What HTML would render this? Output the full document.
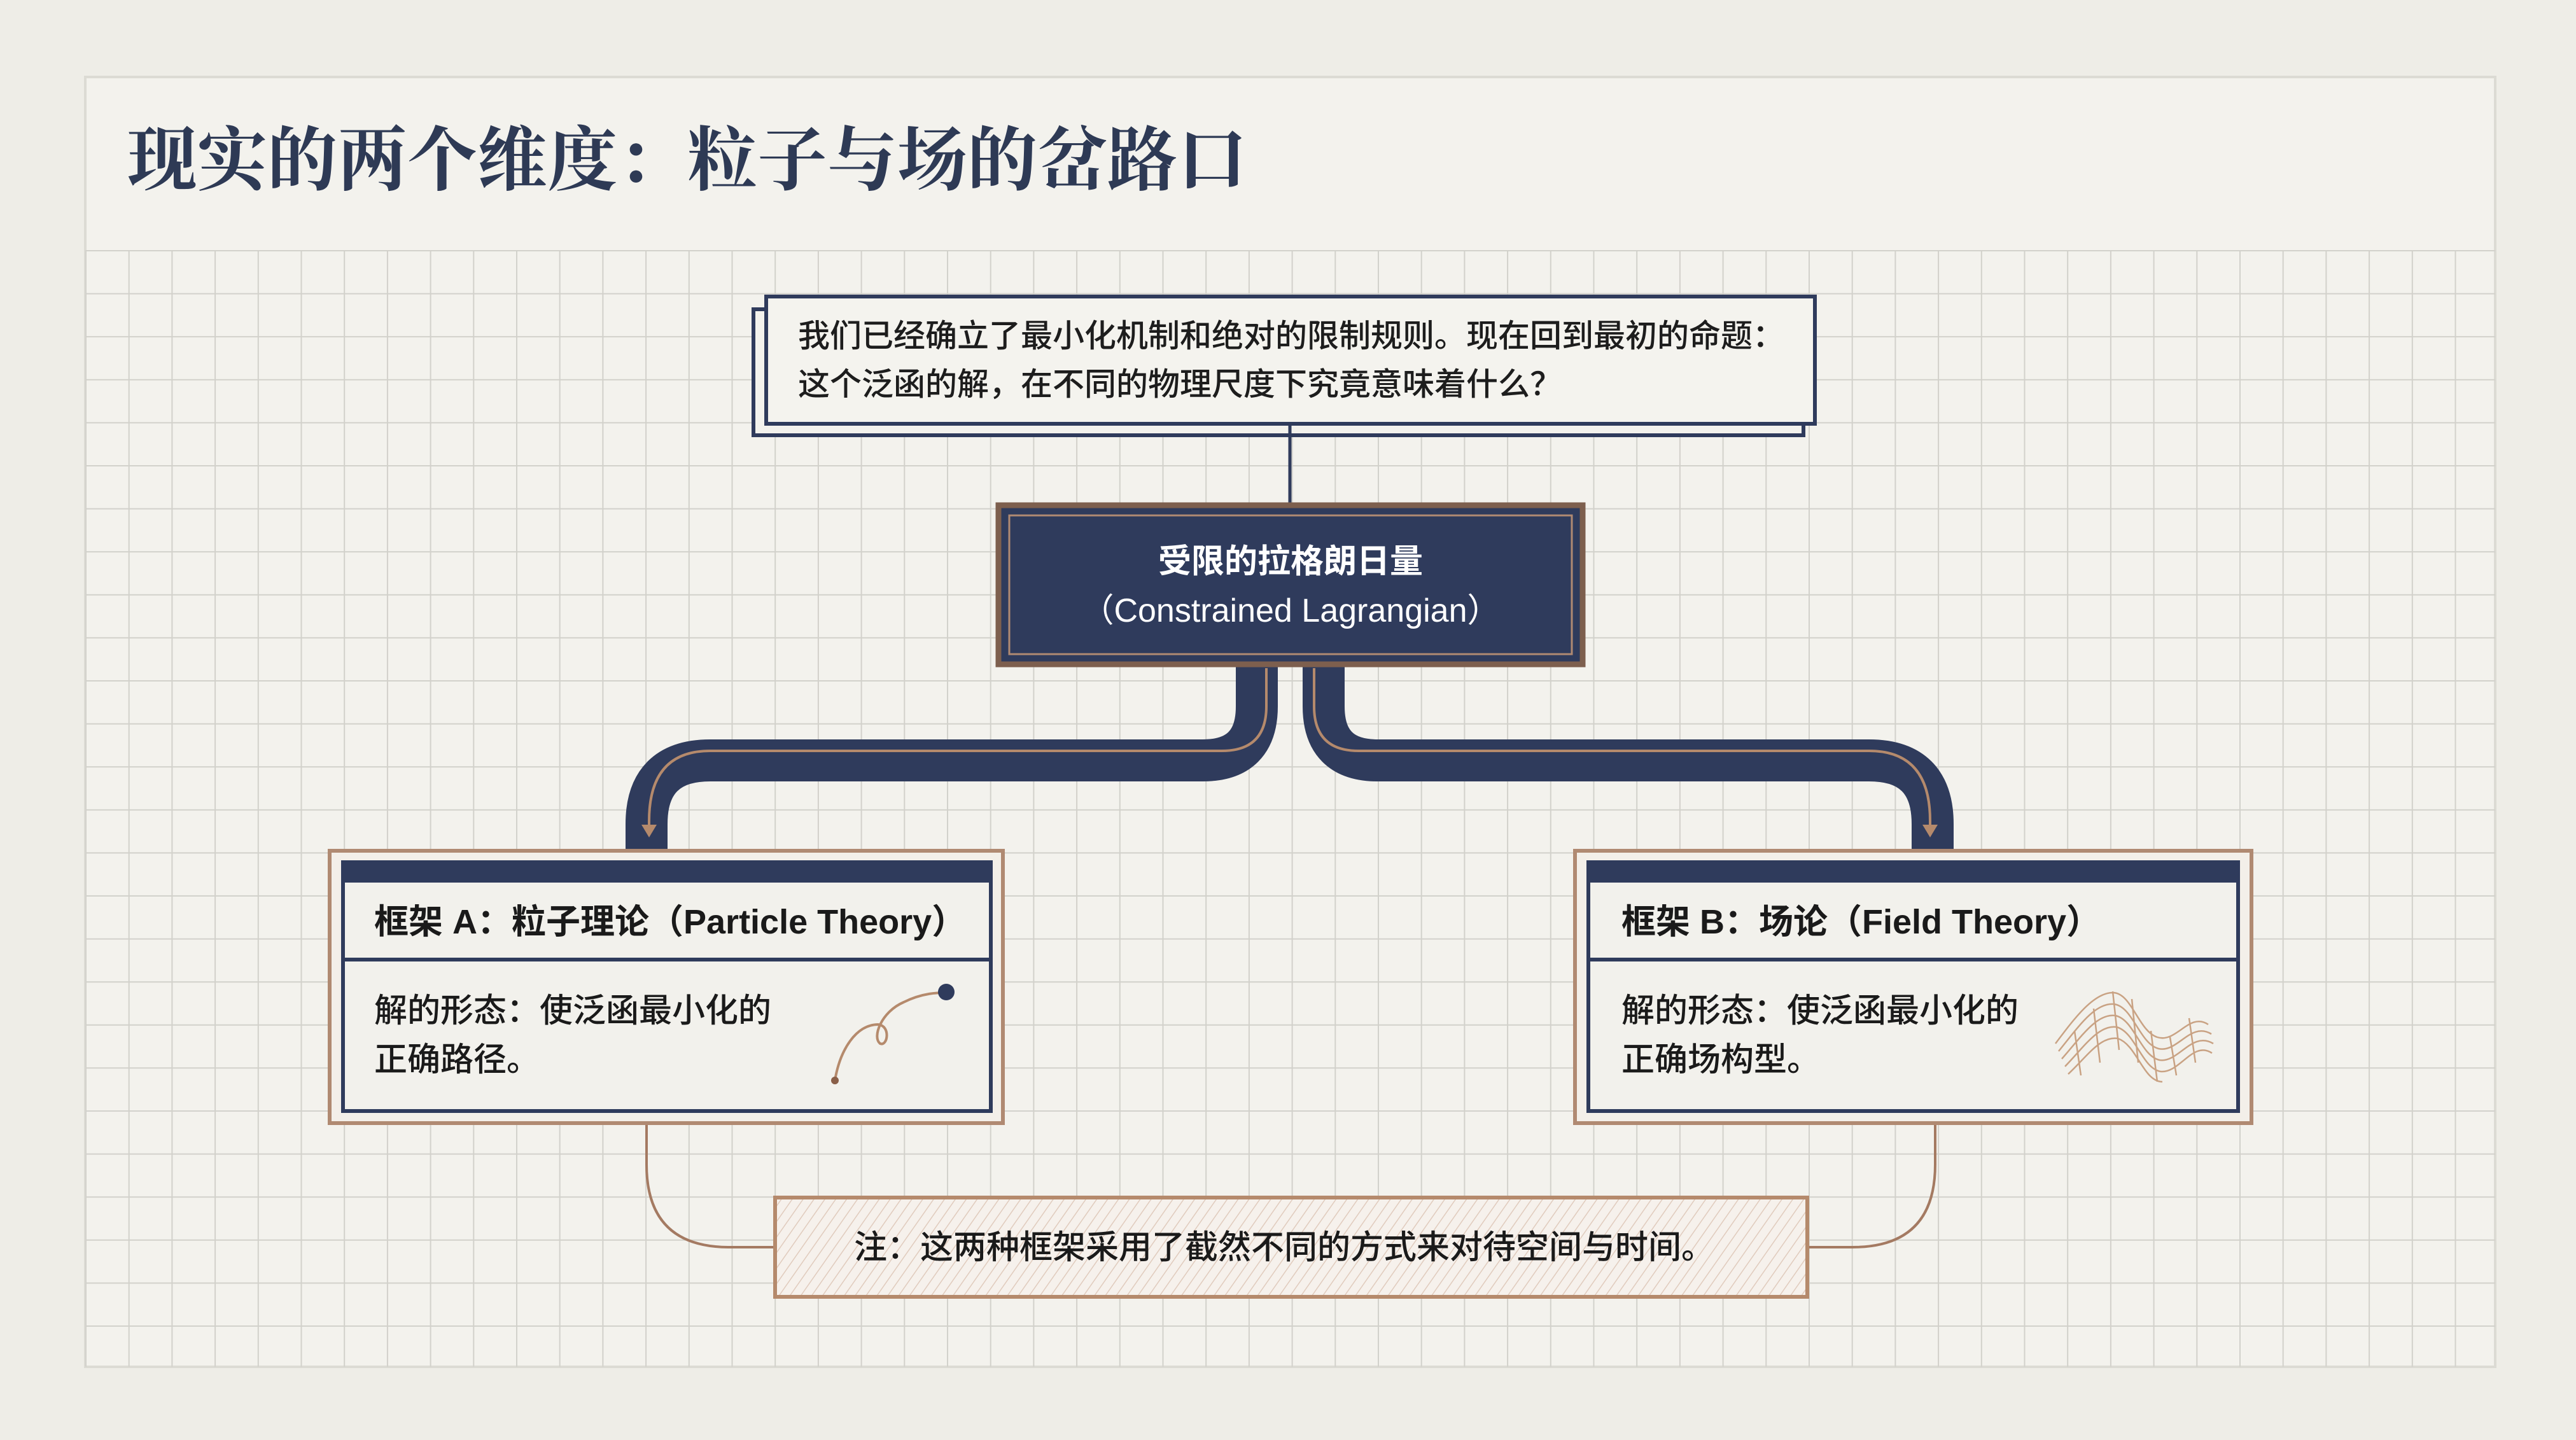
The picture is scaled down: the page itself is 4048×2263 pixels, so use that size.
<!DOCTYPE html>
<html><head><meta charset="utf-8"><style>
html,body{margin:0;padding:0;background:#eeede7;}
svg{display:block;}
.t{font-family:"Liberation Sans","Noto Sans CJK SC",sans-serif;}
</style></head><body>
<svg width="4048" height="2263" viewBox="0 0 4048 2263" xmlns="http://www.w3.org/2000/svg">
<defs>
<pattern id="grid" x="134" y="393" width="67.7" height="67.6" patternUnits="userSpaceOnUse">
<path d="M0,0 H67.7 M0,0 V67.6" stroke="#d2d1cb" stroke-width="4" fill="none"/>
</pattern>
<pattern id="hatch" width="14" height="14" patternUnits="userSpaceOnUse" patternTransform="rotate(35)">
<rect width="14" height="14" fill="#f6f1ec"/>
<line x1="0" y1="0" x2="0" y2="14" stroke="#e0cbbd" stroke-width="3"/>
</pattern>
</defs>
<rect width="4048" height="2263" fill="#eeede7"/>
<rect x="134" y="121" width="3787" height="2027" fill="#f3f2ed" stroke="#dcdbd4" stroke-width="4"/>
<rect x="134" y="393" width="3787" height="1755" fill="url(#grid)"/>
<text x="200" y="290" font-family="'Liberation Serif','Noto Serif CJK SC',serif" font-weight="bold" font-size="110" fill="#2e3a55">现实的两个维度：粒子与场的岔路口</text>

<rect x="1184" y="486" width="1650" height="198" fill="#f3f2ed" stroke="#2f3b5c" stroke-width="6"/>
<rect x="1204" y="466" width="1648" height="200" fill="#f4f3ee" stroke="#2f3b5c" stroke-width="6"/>
<text class="t" x="1254" y="545" font-size="50" font-weight="500" fill="#1d1d1d">我们已经确立了最小化机制和绝对的限制规则。现在回到最初的命题：</text>
<text class="t" x="1254" y="621" font-size="50" font-weight="500" fill="#1d1d1d">这个泛函的解，在不同的物理尺度下究竟意味着什么？</text>
<line x1="2027" y1="669" x2="2027" y2="792" stroke="#2f3b5c" stroke-width="5"/>

<g fill="none" stroke-linejoin="round">
<path d="M1975,1040 L1975,1110 Q1975,1195 1890,1195 L1116,1195 Q1016,1195 1016,1295 L1016,1336" stroke="#2f3b5c" stroke-width="66"/>
<path d="M2080,1040 L2080,1110 Q2080,1195 2165,1195 L2937,1195 Q3037,1195 3037,1295 L3037,1336" stroke="#2f3b5c" stroke-width="66"/>
<path d="M1990,1050 L1990,1110 Q1990,1180 1920,1180 L1116,1180 Q1020,1180 1020,1290 L1020,1305" stroke="#b58a6c" stroke-width="4"/>
<path d="M2065,1050 L2065,1110 Q2065,1180 2135,1180 L2937,1180 Q3033,1180 3033,1290 L3033,1305" stroke="#b58a6c" stroke-width="4"/>
</g>
<path d="M1008,1296 L1032,1296 L1020,1316 Z" fill="#b58a6c"/>
<path d="M3021,1296 L3045,1296 L3033,1316 Z" fill="#b58a6c"/>

<rect x="1569" y="794" width="918" height="250" fill="#2f3b5c" stroke="#7d5f4e" stroke-width="9"/>
<rect x="1586" y="810" width="884" height="218" fill="none" stroke="#b08a72" stroke-width="3"/>
<text class="t" x="2028" y="900" text-anchor="middle" font-size="52" font-weight="bold" fill="#ffffff">受限的拉格朗日量</text>
<text class="t" x="2028" y="977" text-anchor="middle" font-size="52" fill="#ffffff">（Constrained Lagrangian）</text>

<g fill="none" stroke="#a47a62" stroke-width="4">
<path d="M1016,1766 L1016,1830 Q1016,1960 1146,1960 L1218,1960"/>
<path d="M3041,1766 L3041,1830 Q3041,1960 2911,1960 L2840,1960"/>
</g>

<rect x="518" y="1337" width="1058" height="428" fill="#f3efe9" stroke="#b08a72" stroke-width="6"/>
<rect x="539" y="1355" width="1018" height="391" fill="#f2f1ec" stroke="#2f3b5c" stroke-width="6"/>
<rect x="539" y="1355" width="1018" height="32" fill="#2f3b5c"/>
<line x1="539" y1="1508" x2="1557" y2="1508" stroke="#2f3b5c" stroke-width="6"/>
<text class="t" x="588" y="1467" font-size="54" font-weight="bold" fill="#1a1a1a">框架 A：粒子理论（Particle Theory）</text>
<text class="t" x="588" y="1606" font-size="52" font-weight="500" fill="#1a1a1a">解的形态：使泛函最小化的</text>
<text class="t" x="588" y="1683" font-size="52" font-weight="500" fill="#1a1a1a">正确路径。</text>
<path d="M1312,1698 C1320,1650 1345,1610 1380,1610 C1400,1612 1395,1645 1383,1640 C1370,1630 1385,1590 1420,1575 C1450,1560 1475,1560 1487,1560" fill="none" stroke="#b58a6c" stroke-width="4"/>
<circle cx="1487" cy="1559" r="13" fill="#2f3b5c"/>
<circle cx="1312" cy="1698" r="6" fill="#8a5f48"/>

<rect x="2475" y="1337" width="1063" height="428" fill="#f3efe9" stroke="#b08a72" stroke-width="6"/>
<rect x="2496" y="1355" width="1021" height="391" fill="#f2f1ec" stroke="#2f3b5c" stroke-width="6"/>
<rect x="2496" y="1355" width="1021" height="32" fill="#2f3b5c"/>
<line x1="2496" y1="1508" x2="3517" y2="1508" stroke="#2f3b5c" stroke-width="6"/>
<text class="t" x="2548" y="1467" font-size="54" font-weight="bold" fill="#1a1a1a">框架 B：场论（Field Theory）</text>
<text class="t" x="2548" y="1606" font-size="52" font-weight="500" fill="#1a1a1a">解的形态：使泛函最小化的</text>
<text class="t" x="2548" y="1683" font-size="52" font-weight="500" fill="#1a1a1a">正确场构型。</text>
<g fill="none" stroke="#c9a283" stroke-width="2.5">
<path d="M3230,1640 C3260,1600 3290,1560 3320,1560 C3350,1560 3360,1620 3390,1630 C3420,1640 3440,1590 3470,1610"/>
<path d="M3235,1652 C3265,1615 3292,1575 3322,1578 C3352,1582 3362,1640 3392,1648 C3422,1655 3442,1605 3475,1625"/>
<path d="M3240,1664 C3270,1630 3295,1592 3324,1596 C3354,1602 3364,1660 3394,1666 C3424,1670 3444,1620 3478,1640"/>
<path d="M3245,1676 C3275,1645 3298,1610 3326,1614 C3356,1622 3366,1680 3396,1684 C3426,1686 3446,1635 3476,1655"/>
<path d="M3250,1688 C3280,1660 3300,1628 3328,1632 C3358,1642 3368,1700 3398,1700"/>
<path d="M3260,1620 L3270,1690 M3290,1585 L3300,1670 M3320,1558 L3330,1650 M3350,1570 L3360,1670 M3380,1620 L3390,1700 M3410,1630 L3420,1690 M3440,1600 L3450,1670"/>
</g>

<rect x="1218" y="1882" width="1622" height="156" fill="url(#hatch)" stroke="#b58a6c" stroke-width="6"/>
<text class="t" x="1342" y="1978" font-size="52" font-weight="500" fill="#1a1a1a">注：这两种框架采用了截然不同的方式来对待空间与时间。</text>
</svg>
</body></html>
